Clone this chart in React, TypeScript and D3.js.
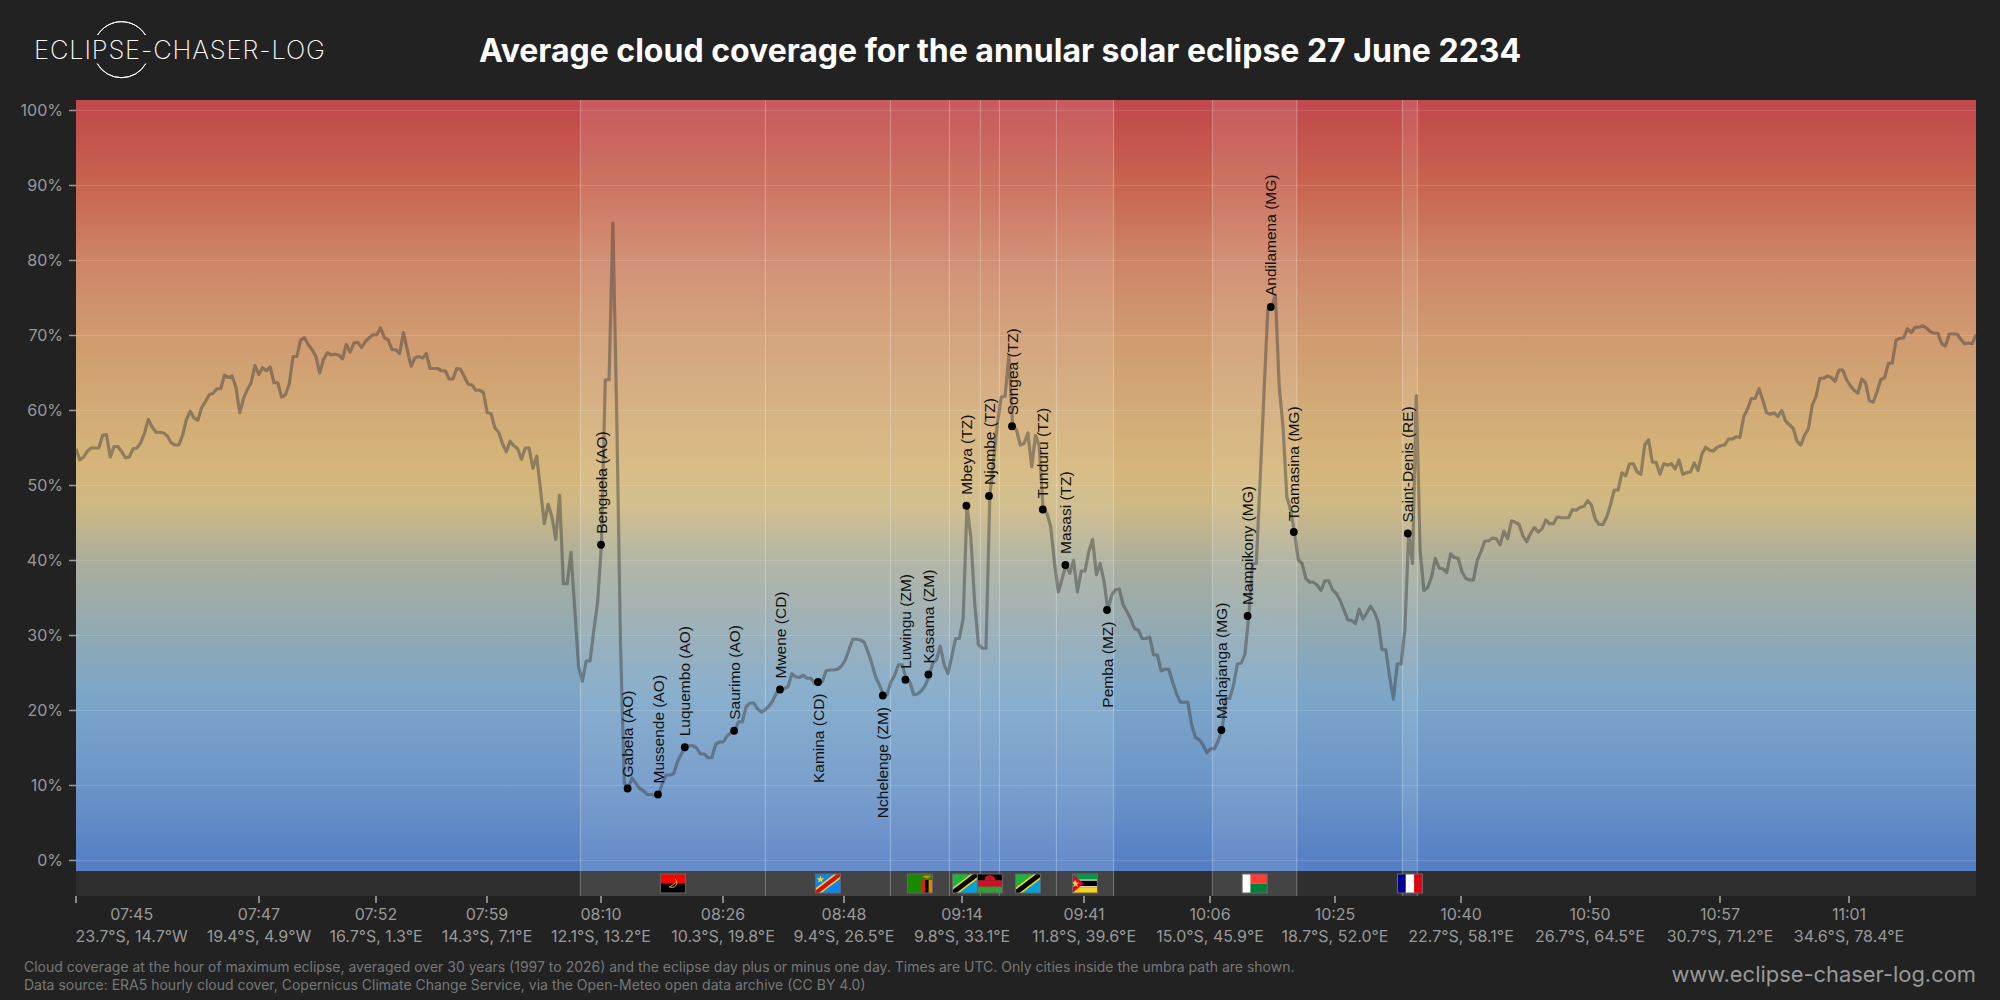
import * as d3 from "d3";

// values along the track, one sample every ~19 km
const cloudCover = [
  54.9, 53.4, 53.8, 54.6, 55.0, 55.0, 55.0, 56.7, 56.8, 53.8,
  55.2, 55.2, 54.5, 53.7, 53.8, 54.9, 55.0, 55.7, 57.0, 58.8,
  57.8, 57.1, 57.1, 57.0, 56.6, 55.7, 55.4, 55.4, 56.7, 58.8,
  59.9, 59.0, 58.7, 60.4, 61.2, 62.1, 62.3, 62.9, 62.9, 64.7,
  64.4, 64.6, 63.1, 59.7, 61.6, 62.8, 63.7, 66.0, 64.8, 65.7,
  65.3, 65.8, 63.7, 63.7, 61.8, 62.1, 63.5, 67.2, 67.2, 69.4,
  69.7, 68.8, 68.1, 67.2, 65.0, 66.8, 67.7, 67.4, 67.5, 67.4,
  66.9, 68.8, 67.8, 69.0, 69.1, 68.4, 69.2, 69.7, 70.1, 70.1,
  71.0, 69.7, 69.4, 68.1, 68.1, 67.6, 70.4, 68.1, 65.9, 67.0,
  67.2, 67.0, 67.6, 65.6, 65.6, 65.6, 65.3, 65.3, 64.2, 64.2,
  65.6, 65.5, 64.5, 63.5, 63.4, 62.7, 62.7, 62.4, 59.7, 59.6,
  57.7, 57.1, 55.6, 54.5, 55.9, 55.3, 54.9, 53.5, 55.0, 55.0,
  52.3, 53.9, 49.4, 44.9, 47.5, 45.8, 42.8, 48.7, 36.9, 36.9,
  41.1, 33.4, 25.8, 23.9, 26.6, 26.6, 30.7, 34.5, 42.1, 64.1,
  64.1, 85.0, 59.7, 29.0, 10.3, 9.6, 11.0, 10.3, 9.6, 9.3,
  8.8, 8.8, 8.7, 8.8, 10.3, 11.4, 11.4, 11.6, 13.2, 14.2,
  15.1, 15.3, 15.3, 15.0, 14.2, 14.2, 13.7, 13.7, 15.5, 15.8,
  15.8, 16.6, 17.0, 17.3, 18.5, 18.5, 20.5, 21.0, 21.0, 20.2,
  19.8, 20.1, 20.6, 21.3, 22.4, 22.7, 22.9, 23.2, 24.9, 24.5,
  24.4, 24.7, 24.3, 24.3, 23.6, 23.8, 23.8, 25.3, 25.4, 25.4,
  25.5, 25.9, 26.7, 28.1, 29.5, 29.5, 29.4, 29.1, 27.8, 26.3,
  24.5, 23.4, 22.2, 22.1, 23.8, 24.7, 26.1, 26.1, 24.3, 23.8,
  22.1, 22.2, 22.6, 23.3, 24.5, 26.3, 26.8, 28.6, 26.1, 24.9,
  27.2, 29.6, 29.6, 32.3, 47.3, 43.2, 34.5, 28.8, 28.3, 28.3,
  48.6, 53.4, 58.3, 61.8, 61.9, 67.3, 57.9, 57.4, 55.4, 55.6,
  57.0, 52.5, 56.7, 55.2, 46.8, 46.3, 44.5, 39.6, 35.8, 37.6,
  39.4, 38.3, 40.0, 35.8, 38.6, 38.6, 41.2, 42.8, 38.1, 39.6,
  37.2, 33.4, 35.4, 36.1, 36.2, 34.1, 33.2, 32.2, 30.9, 30.7,
  29.6, 29.6, 29.8, 27.4, 27.4, 25.3, 25.5, 25.5, 23.8, 22.3,
  21.1, 21.1, 21.1, 18.1, 16.4, 16.1, 15.4, 14.4, 14.9, 14.9,
  16.0, 17.4, 21.6, 21.6, 23.4, 26.2, 26.3, 27.5, 32.6, 39.6,
  39.6, 50.9, 62.3, 73.4, 73.8, 75.4, 63.2, 57.8, 48.5, 46.7,
  43.8, 40.1, 39.6, 37.6, 37.1, 37.1, 36.7, 36.0, 37.3, 37.3,
  36.1, 35.6, 34.7, 33.4, 32.1, 32.0, 31.6, 33.5, 32.2, 33.0,
  33.9, 33.1, 31.8, 28.1, 28.1, 24.5, 21.5, 26.2, 26.2, 30.7,
  43.6, 39.6, 62.0, 41.4, 36.0, 36.4, 37.8, 40.3, 39.0, 38.9,
  38.4, 40.9, 40.4, 40.3, 38.5, 37.6, 37.4, 37.4, 40.0, 41.2,
  42.6, 42.6, 43.0, 42.9, 42.1, 43.9, 42.9, 45.3, 45.1, 44.8,
  43.3, 42.5, 43.6, 44.4, 43.8, 44.2, 45.4, 44.9, 44.9, 45.8,
  45.7, 45.7, 45.7, 46.8, 46.7, 47.1, 47.2, 48.0, 47.4, 45.5,
  44.8, 44.8, 45.8, 47.4, 49.4, 49.4, 51.7, 51.3, 52.9, 52.9,
  51.8, 51.5, 55.4, 56.1, 53.1, 53.1, 51.5, 52.9, 52.7, 52.9,
  52.2, 53.4, 51.5, 51.7, 51.8, 53.0, 52.0, 54.2, 55.1, 54.7,
  54.6, 55.1, 55.3, 55.4, 56.2, 56.2, 56.5, 56.4, 59.2, 60.2,
  61.6, 61.6, 62.9, 61.4, 59.7, 59.5, 59.7, 59.2, 60.0, 58.6,
  58.1, 57.6, 55.9, 55.4, 56.7, 57.6, 60.7, 61.9, 64.3, 64.3,
  64.6, 64.4, 63.9, 65.4, 65.4, 64.1, 63.3, 62.7, 62.3, 64.2,
  63.7, 61.3, 61.1, 62.5, 64.1, 64.4, 66.3, 66.3, 69.4, 69.6,
  69.7, 70.9, 70.4, 71.1, 71.1, 71.3, 71.0, 70.5, 70.3, 70.3,
  68.9, 68.6, 70.2, 70.2, 70.2, 69.5, 68.9, 69.0, 68.9, 70.1,
];
const trackLengthKm = 9500;

const yTicks = [0, 10, 20, 30, 40, 50, 60, 70, 80, 90, 100];

const tickKm = [0, 915, 1500, 2055, 2625, 3235, 3840, 4430, 5040, 5670, 6295, 6925, 7570, 8220, 8865];
const tickTimes = ["07:45", "07:47", "07:52", "07:59", "08:10", "08:26", "08:48", "09:14", "09:41", "10:06", "10:25", "10:40", "10:50", "10:57", "11:01"];
const tickCoords = [
  "23.7°S, 14.7°W", "19.4°S, 4.9°W", "16.7°S, 1.3°E", "14.3°S, 7.1°E", "12.1°S, 13.2°E",
  "10.3°S, 19.8°E", "9.4°S, 26.5°E", "9.8°S, 33.1°E", "11.8°S, 39.6°E", "15.0°S, 45.9°E",
  "18.7°S, 52.0°E", "22.7°S, 58.1°E", "26.7°S, 64.5°E", "30.7°S, 71.2°E", "34.6°S, 78.4°E",
];

const cityNames = [
  "Benguela (AO)", "Gabela (AO)", "Mussende (AO)", "Luquembo (AO)", "Saurimo (AO)", "Mwene (CD)", "Kamina (CD)",
  "Nchelenge (ZM)", "Luwingu (ZM)", "Kasama (ZM)", "Mbeya (TZ)", "Njombe (TZ)", "Songea (TZ)", "Tunduru (TZ)",
  "Masasi (TZ)", "Pemba (MZ)", "Mahajanga (MG)", "Mampikony (MG)", "Andilamena (MG)", "Toamasina (MG)", "Saint-Denis (RE)",
];
const cityKm = [2625, 2758, 2910, 3044, 3291, 3520, 3710, 4034, 4147, 4262, 4452, 4565, 4680, 4834, 4947, 5155, 5727, 5858, 5974, 6089, 6659];
const cityCover = [42.1, 9.6, 8.8, 15.1, 17.3, 22.8, 23.8, 22.0, 24.1, 24.8, 47.3, 48.6, 57.9, 46.8, 39.4, 33.4, 17.4, 32.6, 73.8, 43.8, 43.6];
const citiesBelow = ["Kamina (CD)", "Nchelenge (ZM)", "Pemba (MZ)"];

const segmentCodes = ["AO", "CD", "ZM", "TZ", "MW", "TZ", "MZ", "MG", "RE"];
const segmentStarts = [2522, 3447, 4072, 4367, 4522, 4617, 4902, 5682, 6632];
const segmentEnds = [3447, 4072, 4367, 4522, 4617, 4902, 5188, 6104, 6707];

// background colour by cloud cover
const gradientValues = [100, 90, 80, 70, 60, 52, 47, 40, 30, 22, 10, 0];
const gradientColors = ["#c24a4c", "#c8654f", "#cd8566", "#d09a70", "#d2ab76", "#d5b67a", "#cdb884", "#abae9c", "#90a9b4", "#7ca6c8", "#6b95c8", "#5580c5"];

const W = 2000;
const H = 1000;
const plotLeft = 76;
const plotRight = 1976;
const plotTop = 100;
const plotBottom = 871;
const stripBottom = 896;

const x = d3.scaleLinear().domain([0, trackLengthKm]).range([plotLeft, plotRight]);
const y = d3.scaleLinear().domain([0, 100]).range([860.5, 110.5]);

const font = "Inter, 'Noto Sans', sans-serif";

function Flag({ code, cx }: { code: string; cx: number }) {
  const w = 25;
  const h = 19;
  let body: React.ReactNode = null;
  if (code === "AO") {
    body = (
      <>
        <rect width={w} height={h / 2} fill="#ff0000" />
        <rect y={h / 2} width={w} height={h / 2} fill="#000" />
        <path d="M14.5,5 A4.2,4.2 0 1 1 9,12.5" fill="none" stroke="#e6b800" strokeWidth={1} />
        <path d="M9,13.5 L15,8.5" stroke="#e6b800" strokeWidth={1} />
      </>
    );
  } else if (code === "CD") {
    body = (
      <>
        <rect width={w} height={h} fill="#0a85f5" />
        <path d="M0,19 L0,14.5 L19,0 L25,0 L25,4.5 L6,19 Z" fill="#f7d618" />
        <path d="M0,19 L0,16.5 L21.5,0 L25,0 L25,2.5 L3.5,19 Z" fill="#ce1021" />
        <path d="M5,1.5 L6,4.3 L9,4.3 L6.6,6 L7.5,8.8 L5,7.1 L2.5,8.8 L3.4,6 L1,4.3 L4,4.3 Z" fill="#f7d618" />
      </>
    );
  } else if (code === "ZM") {
    body = (
      <>
        <rect width={w} height={h} fill="#198a00" />
        <rect x={14} y={6} width={3.7} height={13} fill="#de2010" />
        <rect x={17.7} y={6} width={3.6} height={13} fill="#000" />
        <rect x={21.3} y={6} width={3.7} height={13} fill="#ef7d00" />
        <path d="M15,2.5 Q19,0.5 24,2.5 L19.5,4.5 Z" fill="#ef7d00" />
      </>
    );
  } else if (code === "TZ") {
    body = (
      <>
        <path d="M0,0 L25,0 L0,19 Z" fill="#1eb53a" />
        <path d="M25,0 L25,19 L0,19 Z" fill="#00a3dd" />
        <path d="M0,19 L0,14 L18.5,0 L25,0 L25,5 L6.5,19 Z" fill="#fcd116" />
        <path d="M0,19 L0,16 L21,0 L25,0 L25,3 L4,19 Z" fill="#000" />
      </>
    );
  } else if (code === "MW") {
    body = (
      <>
        <rect width={w} height={6.4} fill="#000" />
        <rect y={6.4} width={w} height={6.3} fill="#ce1126" />
        <rect y={12.7} width={w} height={6.3} fill="#339e35" />
        <path d="M7,6.4 A5.5,5.5 0 0 1 18,6.4 Z" fill="#ce1126" />
      </>
    );
  } else if (code === "MZ") {
    body = (
      <>
        <rect width={w} height={6.3} fill="#009a44" />
        <rect y={6.3} width={w} height={6.4} fill="#000" />
        <rect y={5.6} width={w} height={1} fill="#fff" />
        <rect y={12.2} width={w} height={1} fill="#fff" />
        <rect y={13.2} width={w} height={5.8} fill="#fcd116" />
        <path d="M0,0 L11,9.5 L0,19 Z" fill="#e4002b" />
        <path d="M3,6 L4,8.6 L6.8,8.6 L4.6,10.3 L5.4,13 L3,11.4 L0.8,13 L1.5,10.3 L0,9 Z" fill="#fcd116" />
      </>
    );
  } else if (code === "MG") {
    body = (
      <>
        <rect width={w} height={h} fill="#fff" />
        <rect x={8.3} width={16.7} height={9.5} fill="#fc3d32" />
        <rect x={8.3} y={9.5} width={16.7} height={9.5} fill="#007e3a" />
      </>
    );
  } else if (code === "RE") {
    body = (
      <>
        <rect width={w} height={h} fill="#fff" />
        <rect width={8.3} height={h} fill="#000091" />
        <rect x={16.7} width={8.3} height={h} fill="#e1000f" />
      </>
    );
  }
  return (
    <g transform={`translate(${cx - w / 2},874)`}>
      {body}
      <rect width={w} height={h} fill="none" stroke="#666" strokeWidth={1} />
    </g>
  );
}

function Logo() {
  const arc = d3.arc();
  const topArc = arc({ innerRadius: 28, outerRadius: 28, startAngle: -1.02, endAngle: 1.02 }) as string;
  const bottomArc = arc({ innerRadius: 28, outerRadius: 28, startAngle: Math.PI - 1.05, endAngle: Math.PI + 1.05 }) as string;
  return (
    <g>
      <g transform="translate(121.5,49.7)" fill="none" stroke="#fff" strokeWidth={1}>
        <path d={topArc} />
        <path d={bottomArc} />
      </g>
      <text x={34} y={59} fontFamily={font} fontWeight={200} fontSize={25.5} letterSpacing={0.85} fill="#fff">
        ECLIPSE-CHASER-LOG
      </text>
    </g>
  );
}

export default function App() {
  const step = trackLengthKm / (cloudCover.length - 1);
  const line = d3
    .line<number>()
    .x((_, i) => x(i * step))
    .y((d) => y(d));

  const bandEdges = Array.from(new Set([...segmentStarts, ...segmentEnds]));

  return (
    <svg width={W} height={H} style={{ position: "absolute", left: 0, top: 0, background: "#222222" }}>
      <defs>
        <linearGradient id="cover" gradientUnits="userSpaceOnUse" x1={0} x2={0} y1={y(100)} y2={y(0)}>
          {gradientValues.map((v, i) => (
            <stop key={v} offset={`${100 - v}%`} stopColor={gradientColors[i]} />
          ))}
        </linearGradient>
      </defs>

      <Logo />
      <text x={1000} y={62} textAnchor="middle" fontFamily={font} fontWeight={700} fontSize={32} fill="#fff">
        Average cloud coverage for the annular solar eclipse 27 June 2234
      </text>

      {/* plot background and flag strip */}
      <rect x={plotLeft} y={plotTop} width={plotRight - plotLeft} height={plotBottom - plotTop} fill="url(#cover)" />
      <rect x={plotLeft} y={plotBottom} width={plotRight - plotLeft} height={stripBottom - plotBottom} fill="#2f2f2f" />

      {/* umbra bands per country */}
      {segmentCodes.map((c, i) => (
        <rect
          key={i}
          x={x(segmentStarts[i])}
          y={plotTop}
          width={x(segmentEnds[i]) - x(segmentStarts[i])}
          height={stripBottom - plotTop}
          fill="#fff"
          fillOpacity={0.1}
        />
      ))}
      {bandEdges.map((km) => (
        <line key={km} x1={x(km)} x2={x(km)} y1={plotTop} y2={stripBottom} stroke="#fff" strokeOpacity={0.3} />
      ))}

      {/* grid + y axis */}
      {yTicks.map((t) => (
        <g key={t}>
          <line x1={plotLeft} x2={plotRight} y1={y(t)} y2={y(t)} stroke="#fff" strokeOpacity={0.14} />
          <line x1={69} x2={plotLeft} y1={y(t)} y2={y(t)} stroke="#999" strokeWidth={1.5} />
          <text x={63} y={y(t) + 5.8} textAnchor="end" fontFamily={font} fontSize={16} fill="#999">
            {t}%
          </text>
        </g>
      ))}

      <path d={line(cloudCover) ?? ""} fill="none" stroke="#3a3a3a" strokeOpacity={0.45} strokeWidth={3.2} strokeLinejoin="round" />

      {/* cities */}
      {cityNames.map((name, i) => {
        const cx = x(cityKm[i]);
        const cy = y(cityCover[i]);
        const below = citiesBelow.includes(name);
        return (
          <g key={name}>
            <circle cx={cx} cy={cy} r={3.9} fill="#000" />
            <text
              transform={`translate(${cx + 5.5},${below ? cy + 11.5 : cy - 11}) rotate(-90)`}
              textAnchor={below ? "end" : "start"}
              fontFamily="'Liberation Sans', Arial, sans-serif"
              fontSize={15.5}
              fill="#111"
            >
              {name}
            </text>
          </g>
        );
      })}

      {segmentCodes.map((c, i) => (
        <Flag key={i} code={c} cx={x((segmentStarts[i] + segmentEnds[i]) / 2)} />
      ))}

      {/* x axis, first label is pushed inside the plot */}
      {tickKm.map((km, i) => {
        const tx = x(km);
        const labelX = i === 0 ? plotLeft + 55.7 : tx;
        return (
          <g key={km}>
            <line x1={tx} x2={tx} y1={stripBottom} y2={903} stroke="#aaa" strokeWidth={1.5} />
            <text x={labelX} y={920} textAnchor="middle" fontFamily={font} fontSize={16} fill="#999">
              {tickTimes[i]}
            </text>
            <text x={labelX} y={941.5} textAnchor="middle" fontFamily={font} fontSize={16} fill="#999">
              {tickCoords[i]}
            </text>
          </g>
        );
      })}

      <text x={24} y={971.5} fontFamily={font} fontSize={14} fill="#777">
        Cloud coverage at the hour of maximum eclipse, averaged over 30 years (1997 to 2026) and the eclipse day plus or minus one day. Times are UTC. Only cities inside the umbra path are shown.
      </text>
      <text x={24} y={990} fontFamily={font} fontSize={14} fill="#777">
        Data source: ERA5 hourly cloud cover, Copernicus Climate Change Service, via the Open-Meteo open data archive (CC BY 4.0)
      </text>
      <text x={1976} y={982} textAnchor="end" fontFamily={font} fontSize={21.9} fill="#999">
        www.eclipse-chaser-log.com
      </text>
    </svg>
  );
}
